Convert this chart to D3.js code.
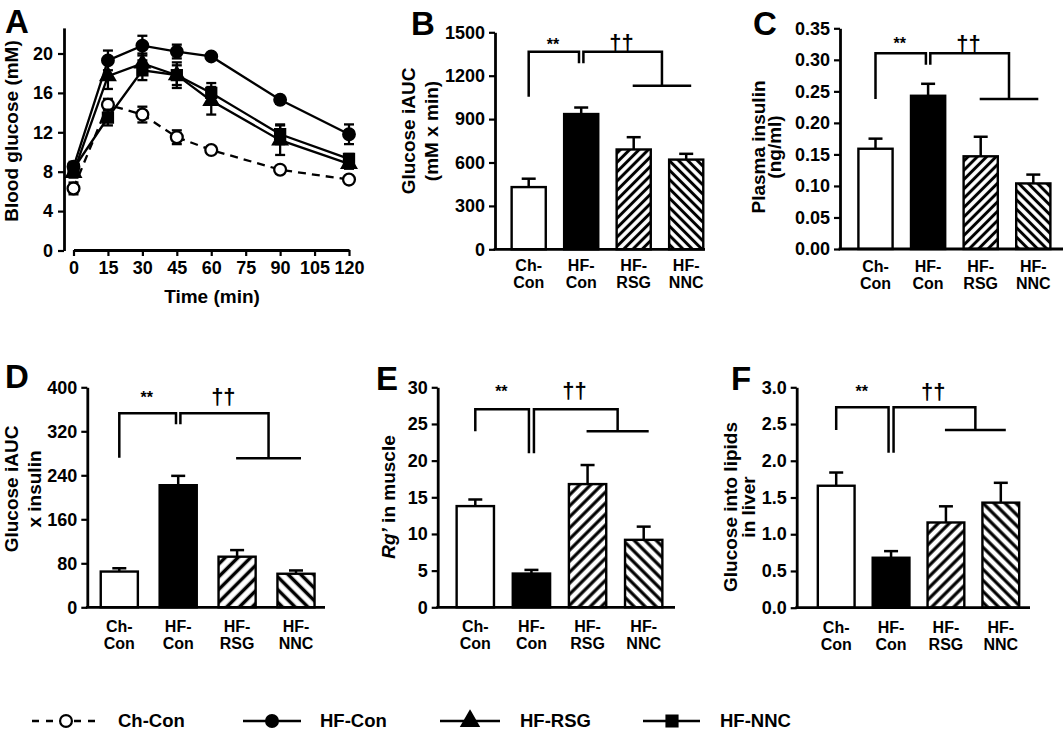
<!DOCTYPE html>
<html><head><meta charset="utf-8">
<script src="https://cdn.jsdelivr.net/npm/d3@7"></script>
<style>
body{margin:0;background:#fff}
svg{display:block;font-family:"Liberation Sans",Arial,Helvetica,sans-serif;font-weight:bold}
</style></head><body>
<svg id="chart" width="1063" height="735"></svg>
<script>
// ================= DATA =================
// Panel A: blood glucose time course (mM)
const timePoints = [0, 15, 30, 45, 60, 90, 120];
const timeTicks = [0, 15, 30, 45, 60, 75, 90, 105, 120];
const glucoseTicks = [0, 4, 8, 12, 16, 20];
const chConGlucose = [6.3, 14.8, 13.8, 11.5, 10.2, 8.2, 7.2];
const chConGlucoseErr = [0.6, 0.6, 0.8, 0.7, 0.3, 0.3, 0.3];
const hfConGlucose = [8.5, 19.3, 20.8, 20.2, 19.7, 15.3, 11.8];
const hfConGlucoseErr = [0.5, 1.0, 1.0, 0.7, 0.3, 0.4, 1.0];
const hfRsgGlucose = [7.9, 17.7, 19.0, 17.8, 15.2, 11.2, 8.8];
const hfRsgGlucoseErr = [0.5, 1.3, 1.0, 1.3, 1.4, 1.5, 0.5];
const hfNncGlucose = [8.3, 13.5, 18.3, 17.8, 16.0, 11.8, 9.3];
const hfNncGlucoseErr = [0.5, 0.8, 1.0, 1.0, 1.0, 1.0, 0.5];

// Bar panels
const groups = ["Ch-Con", "HF-Con", "HF-RSG", "HF-NNC"];
const groupLabelLines = [["Ch-", "Con"], ["HF-", "Con"], ["HF-", "RSG"], ["HF-", "NNC"]];

const iaucValues = [430, 935, 690, 620];
const iaucErrors = [58, 45, 85, 40];
const iaucTicks = [0, 300, 600, 900, 1200, 1500];

const insulinValues = [0.159, 0.243, 0.147, 0.104];
const insulinErrors = [0.016, 0.019, 0.031, 0.014];
const insulinTicks = [0, 0.05, 0.10, 0.15, 0.20, 0.25, 0.30, 0.35];

const iaucInsulinValues = [65, 222, 92, 61];
const iaucInsulinErrors = [6, 17, 12, 6];
const iaucInsulinTicks = [0, 80, 160, 240, 320, 400];

const rgMuscleValues = [13.8, 4.6, 16.8, 9.2];
const rgMuscleErrors = [0.9, 0.5, 2.6, 1.8];
const rgMuscleTicks = [0, 5, 10, 15, 20, 25, 30];

const liverLipidValues = [1.66, 0.68, 1.16, 1.43];
const liverLipidErrors = [0.18, 0.09, 0.22, 0.27];
const liverLipidTicks = [0, 0.5, 1.0, 1.5, 2.0, 2.5, 3.0];

const sigLabels = ["**", "\u2020\u2020"];

// ================= DRAW =================
const svg = d3.select("#chart");
const defs = svg.append("defs");

function hatch(id, period, width, angle) {
  const p = defs.append("pattern").attr("id", id)
    .attr("patternUnits", "userSpaceOnUse")
    .attr("width", period).attr("height", period)
    .attr("patternTransform", `rotate(${angle})`);
  p.append("rect").attr("width", period).attr("height", period).attr("fill", "#fff");
  p.append("line").attr("x1", period / 2).attr("x2", period / 2)
    .attr("y1", -1).attr("y2", period + 1)
    .attr("stroke", "#000").attr("stroke-width", width);
}

function styleAxis(sel, fontSize) {
  sel.select(".domain").attr("stroke", "#000").attr("stroke-width", 2.8);
  sel.selectAll(".tick line").attr("stroke", "#000").attr("stroke-width", 2.2);
  sel.selectAll(".tick text").attr("fill", "#000")
    .style("font-size", fontSize + "px").style("font-weight", "bold")
    .style("font-family", '"Liberation Sans",Arial,sans-serif');
}

function panelLetter(txt, x, y) {
  svg.append("text").attr("x", x).attr("y", y).text(txt)
    .style("font-size", "33px").style("font-weight", "bold");
}

// ---------- Panel A ----------
(function () {
  const g = svg.append("g");
  const x = d3.scaleLinear().domain([0, 120]).range([73.5, 349]);
  const y = d3.scaleLinear().domain([0, 22.6]).range([250.5, 250.5 - 22.6 * 9.85]);

  const ya = g.append("g").attr("transform", "translate(64,0)")
    .call(d3.axisLeft(y).tickValues(glucoseTicks).tickFormat(d3.format("d"))
      .tickSizeInner(6).tickSizeOuter(0).tickPadding(5));
  styleAxis(ya, 18);
  const xa = g.append("g").attr("transform", "translate(0,250)")
    .call(d3.axisBottom(x).tickValues(timeTicks).tickFormat(d3.format("d"))
      .tickSizeInner(6).tickSizeOuter(0).tickPadding(5));
  styleAxis(xa, 18);

  g.append("text").attr("transform", "translate(18,131) rotate(-90)")
    .attr("text-anchor", "middle").text("Blood glucose (mM)").style("font-size", "19px");
  g.append("text").attr("x", 212).attr("y", 303).attr("text-anchor", "middle")
    .text("Time (min)").style("font-size", "19px");

  const series = [
    { v: chConGlucose, e: chConGlucoseErr, dash: "8,6", sym: d3.symbolCircle, size: 110, fill: "#fff" },
    { v: hfNncGlucose, e: hfNncGlucoseErr, dash: null, sym: d3.symbolSquare, size: 100, fill: "#000" },
    { v: hfRsgGlucose, e: hfRsgGlucoseErr, dash: null, sym: d3.symbolTriangle, size: 85, fill: "#000" },
    { v: hfConGlucose, e: hfConGlucoseErr, dash: null, sym: d3.symbolCircle, size: 105, fill: "#000" }
  ];
  const line = d3.line().x((d, i) => x(timePoints[i])).y(d => y(d));
  series.forEach(s => {
    g.append("path").attr("d", line(s.v)).attr("fill", "none")
      .attr("stroke", "#000").attr("stroke-width", 2.3)
      .attr("stroke-dasharray", s.dash);
  });
  series.forEach(s => {
    const eg = g.append("g");
    s.v.forEach((v, i) => {
      const cx = x(timePoints[i]);
      const lo = y(v - s.e[i]), hi = y(v + s.e[i]);
      eg.append("line").attr("x1", cx).attr("x2", cx).attr("y1", lo).attr("y2", hi)
        .attr("stroke", "#000").attr("stroke-width", 2.3);
      [lo, hi].forEach(yy => eg.append("line").attr("x1", cx - 5).attr("x2", cx + 5)
        .attr("y1", yy).attr("y2", yy).attr("stroke", "#000").attr("stroke-width", 2.3));
    });
    g.selectAll(null).data(s.v).join("path")
      .attr("transform", (d, i) => `translate(${x(timePoints[i])},${y(d)})`)
      .attr("d", d3.symbol().type(s.sym).size(s.size))
      .attr("fill", s.fill).attr("stroke", "#000").attr("stroke-width", 2.3);
  });
  panelLetter("A", 5, 33);
})();

// ---------- Bar panels ----------
function barPanel(cfg) {
  const g = svg.append("g");
  const y = d3.scaleLinear().domain([0, cfg.max]).range([cfg.y0, cfg.yTop]);
  const step = (cfg.lastC - cfg.firstC) / 3;
  const x = d3.scaleBand().domain(groups)
    .range([cfg.firstC - step / 2, cfg.lastC + step / 2])
    .paddingInner(cfg.pad).paddingOuter(cfg.pad / 2);
  const cx = d => x(d) + x.bandwidth() / 2;

  hatch("hR" + cfg.id, cfg.hatch, cfg.hatchW, 45);
  hatch("hL" + cfg.id, cfg.hatch, cfg.hatchW, -45);
  const fills = ["#fff", "#000", `url(#hR${cfg.id})`, `url(#hL${cfg.id})`];

  // bars
  g.selectAll("rect").data(groups).join("rect")
    .attr("x", d => x(d)).attr("width", x.bandwidth())
    .attr("y", (d, i) => y(cfg.values[i]))
    .attr("height", (d, i) => y(0) - y(cfg.values[i]))
    .attr("fill", (d, i) => fills[i]).attr("stroke", "#000").attr("stroke-width", 2.4);
  // error bars (upper only)
  groups.forEach((d, i) => {
    const top = y(cfg.values[i] + cfg.errors[i]);
    g.append("line").attr("x1", cx(d)).attr("x2", cx(d))
      .attr("y1", y(cfg.values[i])).attr("y2", top)
      .attr("stroke", "#000").attr("stroke-width", 2.5);
    g.append("line").attr("x1", cx(d) - 7).attr("x2", cx(d) + 7)
      .attr("y1", top).attr("y2", top).attr("stroke", "#000").attr("stroke-width", 2.5);
  });

  // axes
  const ya = g.append("g").attr("transform", `translate(${cfg.ax},0)`)
    .call(d3.axisLeft(y).tickValues(cfg.ticks).tickFormat(cfg.fmt)
      .tickSizeInner(6).tickSizeOuter(0).tickPadding(4));
  styleAxis(ya, 18);
  g.append("line").attr("x1", cfg.ax - 1.4).attr("x2", cfg.xEnd)
    .attr("y1", y(0)).attr("y2", y(0)).attr("stroke", "#000").attr("stroke-width", 2.8);

  // category labels
  groups.forEach((d, i) => {
    const t = g.append("text").attr("text-anchor", "middle").style("font-size", "16px");
    groupLabelLines[i].forEach((ln, k) => t.append("tspan")
      .attr("x", cx(d)).attr("y", y(0) + cfg.lab1 + k * 17).text(ln));
  });

  // y title
  const tt = g.append("text").attr("text-anchor", "middle").style("font-size", "19px")
    .attr("transform", `translate(${cfg.titleX},${cfg.titleY}) rotate(-90)`);
  cfg.title.forEach((ln, k) => {
    const ts = tt.append("tspan").attr("x", 0).attr("y", k * cfg.titleGap);
    if (Array.isArray(ln)) ln.forEach(part => ts.append("tspan")
      .style("font-style", part.italic ? "italic" : null).text(part.t));
    else ts.text(ln);
  });

  // significance brackets
  const b = cfg.bracket;
  const c0 = cx(groups[0]), c1 = cx(groups[1]), c2 = cx(groups[2]), c3 = cx(groups[3]);
  const lx0 = c2 - 1, lx1 = c3 + 5, rLeg = (lx0 + lx1) / 2;
  const path = [
    [[c0, y(b.leftLow)], [c0, y(b.top)], [c1 - b.gap, y(b.top)], [c1 - b.gap, y(b.midLow)]],
    [[c1 + b.gap, y(b.midLow)], [c1 + b.gap, y(b.top)], [rLeg, y(b.top)], [rLeg, y(b.rightLow)]],
    [[lx0, y(b.rightLow)], [lx1, y(b.rightLow)]]
  ];
  path.forEach(p => g.append("path").attr("d", d3.line()(p)).attr("fill", "none")
    .attr("stroke", "#000").attr("stroke-width", 2.5));
  g.append("text").attr("x", (c0 + c1) / 2 - 2).attr("y", y(b.top) - b.starOff)
    .attr("text-anchor", "middle").style("font-size", "16px").text(sigLabels[0]);
  g.append("text").attr("x", (c1 + rLeg) / 2).attr("y", y(b.top) - b.dagOff)
    .attr("text-anchor", "middle").style("font-size", "22px").text(sigLabels[1]);

  panelLetter(cfg.letter, cfg.letterX, cfg.letterY);
}

barPanel({
  id: "B", letter: "B", letterX: 411, letterY: 35,
  values: iaucValues, errors: iaucErrors, ticks: iaucTicks, fmt: d3.format("d"),
  max: 1500, y0: 249.3, yTop: 32.3, ax: 495, xEnd: 705,
  firstC: 528.7, lastC: 686.2, pad: 0.35, hatch: 6.6, hatchW: 3, lab1: 22,
  title: ["Glucose iAUC", "(mM x min)"], titleX: 415, titleY: 131, titleGap: 23,
  bracket: { top: 1366, leftLow: 1055, midLow: 1286, rightLow: 1130, gap: 2.2, starOff: 2, dagOff: 2 }
});
barPanel({
  id: "C", letter: "C", letterX: 753, letterY: 35,
  values: insulinValues, errors: insulinErrors, ticks: insulinTicks, fmt: d3.format(".2f"),
  max: 0.35, y0: 249, yTop: 28.3, ax: 840, xEnd: 1063,
  firstC: 875.5, lastC: 1033.3, pad: 0.35, hatch: 6.6, hatchW: 3, lab1: 23,
  title: ["Plasma insulin", "(ng/ml)"], titleX: 765, titleY: 147, titleGap: 16,
  bracket: { top: 0.3106, leftLow: 0.238, midLow: 0.292, rightLow: 0.238, gap: 2.2, starOff: 4, dagOff: 2 }
});
barPanel({
  id: "D", letter: "D", letterX: 5, letterY: 388,
  values: iaucInsulinValues, errors: iaucInsulinErrors, ticks: iaucInsulinTicks, fmt: d3.format("d"),
  max: 400, y0: 607.3, yTop: 387.3, ax: 87.3, xEnd: 325,
  firstC: 119.3, lastC: 296, pad: 0.37, hatch: 9, hatchW: 3.5, lab1: 25,
  title: ["Glucose iAUC", "x insulin"], titleX: 18, titleY: 489, titleGap: 23,
  bracket: { top: 352.7, leftLow: 272, midLow: 333, rightLow: 271, gap: 2.2, starOff: 10, dagOff: 9 }
});
barPanel({
  id: "E", letter: "E", letterX: 376, letterY: 390,
  values: rgMuscleValues, errors: rgMuscleErrors, ticks: rgMuscleTicks, fmt: d3.format("d"),
  max: 30, y0: 607.3, yTop: 387.3, ax: 437.7, xEnd: 675,
  firstC: 475.3, lastC: 643.7, pad: 0.335, hatch: 7.8, hatchW: 3.2, lab1: 25,
  title: [[{ t: "Rg\u2019", italic: true }, { t: " in muscle" }]], titleX: 395, titleY: 497, titleGap: 0,
  bracket: { top: 27.0, leftLow: 24.0, midLow: 21.0, rightLow: 24.0, gap: 2.5, starOff: 12, dagOff: 11 }
});
barPanel({
  id: "F", letter: "F", letterX: 731, letterY: 390,
  values: liverLipidValues, errors: liverLipidErrors, ticks: liverLipidTicks, fmt: d3.format(".1f"),
  max: 3, y0: 607.7, yTop: 387.3, ax: 796.7, xEnd: 1030,
  firstC: 836.2, lastC: 1000.8, pad: 0.33, hatch: 7.8, hatchW: 3.2, lab1: 25,
  title: ["Glucose into lipids", "in liver"], titleX: 737, titleY: 507, titleGap: 18,
  bracket: { top: 2.73, leftLow: 2.42, midLow: 2.11, rightLow: 2.42, gap: 2.5, starOff: 10, dagOff: 8 }
});

// ---------- Legend ----------
(function () {
  const ly = 721;
  const items = [
    { name: groups[0], x0: 32, x1: 100, cx: 66, dash: "7,7", sym: d3.symbolCircle, fill: "#fff", size: 110, tx: 118 },
    { name: groups[1], x0: 243, x1: 301, cx: 272, dash: null, sym: d3.symbolCircle, fill: "#000", size: 110, tx: 320 },
    { name: groups[2], x0: 440, x1: 500, cx: 470, dash: null, sym: d3.symbolTriangle, fill: "#000", size: 120, tx: 520 },
    { name: groups[3], x0: 643, x1: 700, cx: 672, dash: null, sym: d3.symbolSquare, fill: "#000", size: 120, tx: 720 }
  ];
  const g = svg.append("g");
  items.forEach(it => {
    g.append("line").attr("x1", it.x0).attr("x2", it.x1).attr("y1", ly).attr("y2", ly)
      .attr("stroke", "#000").attr("stroke-width", 2.4).attr("stroke-dasharray", it.dash);
    g.append("path").attr("transform", `translate(${it.cx},${ly})`)
      .attr("d", d3.symbol().type(it.sym).size(it.size))
      .attr("fill", it.fill).attr("stroke", "#000").attr("stroke-width", 2.2);
    g.append("text").attr("x", it.tx).attr("y", ly + 6).text(it.name).style("font-size", "18.5px");
  });
})();
</script>
</body></html>
